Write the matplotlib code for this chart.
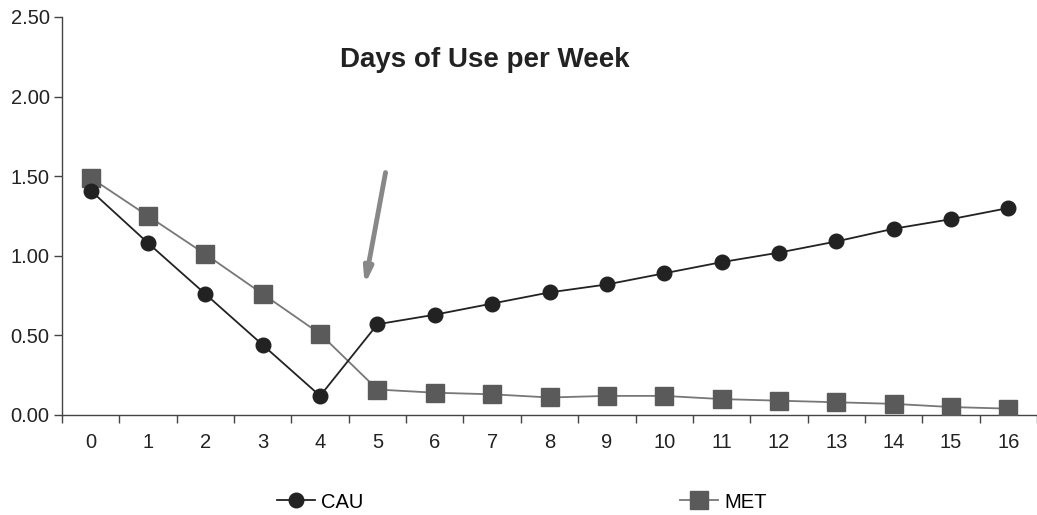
import numpy as np
import matplotlib.pyplot as plt
from matplotlib.lines import Line2D

plt.rcParams['font.family'] = ['Liberation Sans', 'DejaVu Sans']

weeks = list(range(17))
week_labels = [str(w) for w in weeks]
cau = [1.41, 1.08, 0.76, 0.44, 0.12, 0.57, 0.63, 0.70, 0.77, 0.82, 0.89,
       0.96, 1.02, 1.09, 1.17, 1.23, 1.30]
met = [1.49, 1.25, 1.01, 0.76, 0.51, 0.16, 0.14, 0.13, 0.11, 0.12, 0.12,
       0.10, 0.09, 0.08, 0.07, 0.05, 0.04]
y_ticks = [0.0, 0.5, 1.0, 1.5, 2.0, 2.5]

fig = plt.figure(figsize=(10.37, 5.15), dpi=100)
ax = fig.add_axes([62 / 1037, 100 / 515, 975 / 1037, 398 / 515])

ax.plot(weeks, met, color='#777777', lw=1.3, marker='s', ms=13,
        mfc='#5a5a5a', mec='#5a5a5a', zorder=3)
ax.plot(weeks, cau, color='#222222', lw=1.3, marker='o', ms=10.5,
        mfc='#222222', mec='#222222', zorder=4)

ax.set_xlim(-0.5, 16.5)
ax.set_ylim(0, 2.5)
ax.set_yticks(y_ticks)
ax.set_yticklabels([f"{v:.2f}" for v in y_ticks])
ax.set_xticks(weeks)
ax.set_xticklabels(week_labels)
ax.set_xticks(np.arange(-0.5, 17, 1), minor=True)
ax.tick_params(axis='x', which='major', length=0, pad=13, labelsize=14.5, colors='#222222')
ax.tick_params(axis='x', which='minor', length=6, width=1, color='#444444')
ax.tick_params(axis='y', length=6, width=1, pad=3, color='#444444', labelsize=14.5,
               labelcolor='#222222')

for side in ['top', 'right']:
    ax.spines[side].set_visible(False)
for side in ['left', 'bottom']:
    ax.spines[side].set_color('#444444')
    ax.spines[side].set_linewidth(1)

ax.text(6.88, 2.23, "Days of Use per Week", ha='center', va='center',
        fontsize=20, fontweight='bold', color='#222222')

ax.annotate('', xy=(4.77, 0.80), xytext=(5.15, 1.54),
            arrowprops=dict(arrowstyle='-|>,head_length=0.9,head_width=0.25',
                            color='#888888', lw=3.5))

h_cau = Line2D([], [], color='#222222', lw=1.3, marker='o', ms=10.5,
               mfc='#222222', mec='#222222')
h_met = Line2D([], [], color='#777777', lw=1.3, marker='s', ms=13,
               mfc='#5a5a5a', mec='#5a5a5a')
fig.legend([h_cau], ['CAU'], loc='center left', bbox_to_anchor=(259 / 1037, 13 / 515),
           frameon=False, fontsize=14.5, handlelength=1.9, handletextpad=0.3)
fig.legend([h_met], ['MET'], loc='center left', bbox_to_anchor=(662 / 1037, 13 / 515),
           frameon=False, fontsize=14.5, handlelength=1.9, handletextpad=0.3)

fig.savefig('out.png', dpi=100)
